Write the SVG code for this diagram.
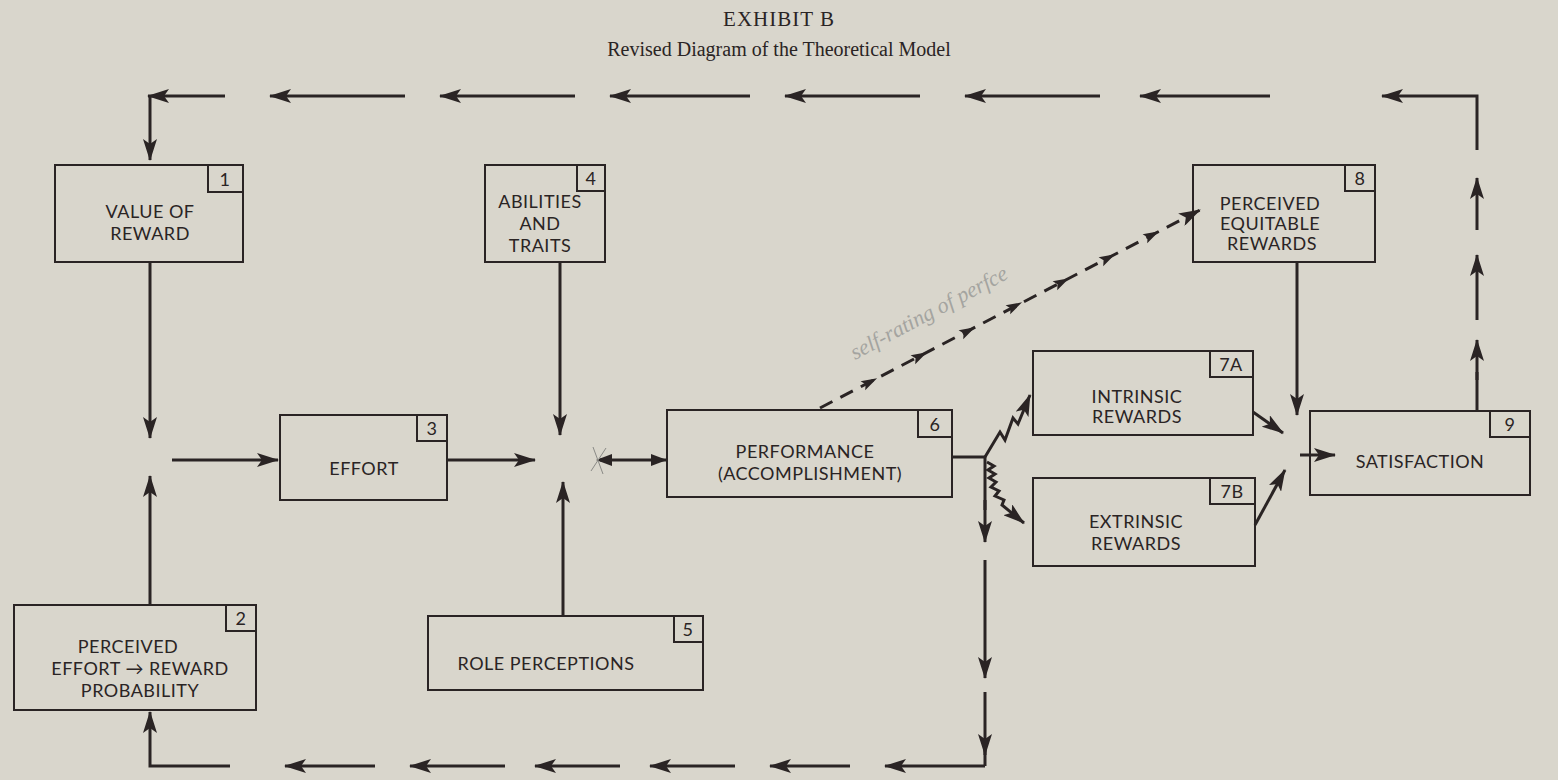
<svg xmlns="http://www.w3.org/2000/svg" width="1558" height="780" viewBox="0 0 1558 780">
<defs>
<marker id="ahb" markerWidth="22" markerHeight="14" refX="21" refY="7" orient="auto" markerUnits="userSpaceOnUse"><path d="M0,0 L22,7 L0,14 L5,7 Z" fill="#2a2424"/></marker>
<path id="sa" d="M-8,-5 L8,0 L-8,5 L-5,0 Z" fill="#2a2424"/>
<style>
.b{fill:none;stroke:#2a2424;stroke-width:2}
.l{fill:none;stroke:#2a2424;stroke-width:3;marker-end:url(#ahb)}
.n{fill:none;stroke:#2a2424;stroke-width:3}
.t{font-family:Lato,"Open Sans",sans-serif;font-size:18px;fill:#2a2424;text-anchor:middle;letter-spacing:0.5px}
.h{font-family:"Liberation Serif",serif;fill:#2a2424;text-anchor:middle}
</style>
</defs>
<rect width="1558" height="780" fill="#d9d6cc"/>
<text class="h" x="779" y="26" font-size="21" letter-spacing="1">EXHIBIT B</text>
<text class="h" x="779" y="56" font-size="20">Revised Diagram of the Theoretical Model</text>

<g id="n1"><rect class="b" x="55" y="165" width="188" height="97"/><rect class="b" x="208" y="165" width="35" height="27"/><text class="t" x="225" y="186">1</text><text class="t" x="150" y="218">VALUE  OF</text><text class="t" x="150" y="240">REWARD</text></g>
<g id="n2"><rect class="b" x="14" y="605" width="242" height="105"/><rect class="b" x="226" y="605" width="30" height="26"/><text class="t" x="241" y="625">2</text><text class="t" x="128" y="653">PERCEIVED</text><text class="t" x="140" y="675">EFFORT → REWARD</text><text class="t" x="140" y="697">PROBABILITY</text></g>
<g id="n3"><rect class="b" x="280" y="415" width="167" height="85"/><rect class="b" x="417" y="415" width="30" height="26"/><text class="t" x="432" y="435">3</text><text class="t" x="364" y="475">EFFORT</text></g>
<g id="n4"><rect class="b" x="485" y="165" width="120" height="97"/><rect class="b" x="577" y="165" width="28" height="26"/><text class="t" x="591" y="185">4</text><text class="t" x="540" y="208">ABILITIES</text><text class="t" x="540" y="230">AND</text><text class="t" x="540" y="252">TRAITS</text></g>
<g id="n5"><rect class="b" x="428" y="616" width="275" height="74"/><rect class="b" x="674" y="616" width="29" height="26"/><text class="t" x="688" y="636">5</text><text class="t" x="546" y="670">ROLE  PERCEPTIONS</text></g>
<g id="n6"><rect class="b" x="667" y="410" width="285" height="87"/><rect class="b" x="918" y="410" width="34" height="27"/><text class="t" x="935" y="431">6</text><text class="t" x="805" y="458">PERFORMANCE</text><text class="t" x="810" y="480">(ACCOMPLISHMENT)</text></g>
<g id="n7a"><rect class="b" x="1033" y="351" width="220" height="84"/><rect class="b" x="1210" y="351" width="43" height="26"/><text class="t" x="1231" y="371">7A</text><text class="t" x="1137" y="403">INTRINSIC</text><text class="t" x="1137" y="423">REWARDS</text></g>
<g id="n7b"><rect class="b" x="1033" y="478" width="222" height="88"/><rect class="b" x="1210" y="478" width="45" height="26"/><text class="t" x="1232" y="498">7B</text><text class="t" x="1136" y="528">EXTRINSIC</text><text class="t" x="1136" y="550">REWARDS</text></g>
<g id="n8"><rect class="b" x="1193" y="165" width="182" height="97"/><rect class="b" x="1345" y="165" width="30" height="26"/><text class="t" x="1360" y="185">8</text><text class="t" x="1270" y="210">PERCEIVED</text><text class="t" x="1270" y="230">EQUITABLE</text><text class="t" x="1272" y="250">REWARDS</text></g>
<g id="n9"><rect class="b" x="1310" y="411" width="220" height="84"/><rect class="b" x="1490" y="411" width="40" height="26"/><text class="t" x="1510" y="431">9</text><text class="t" x="1420" y="468">SATISFACTION</text></g>

<g id="connectors">
<path class="n" d="M1477,411 V372"/><path class="l" d="M1477,380 V340"/>
<path class="l" d="M1477,320 V255"/><path class="l" d="M1477,230 V178"/><path class="l" d="M1477,150 V96 H1382"/>
<path class="l" d="M1270,96 H1140"/><path class="l" d="M1100,96 H965"/><path class="l" d="M920,96 H785"/><path class="l" d="M750,96 H610"/><path class="l" d="M575,96 H440"/><path class="l" d="M405,96 H270"/><path class="l" d="M225,96 H148"/>
<path class="l" d="M150,96 V160"/>
<path class="l" d="M150,262 V438"/>
<path class="l" d="M150,605 V476"/>
<path class="l" d="M172,460 H278"/>
<path class="l" d="M447,460 H535"/>
<path class="l" d="M560,262 V435"/>
<path class="l" d="M563,616 V482"/>
<path class="n" d="M600,460 H667"/>
<path d="M596,460 l16,-6 v12 z" fill="#2a2424"/><path d="M667,460 l-16,-6 v12 z" fill="#2a2424"/>
<path d="M593,447 L603,474 M606,448 L591,471" stroke="#8a8a86" stroke-width="1" fill="none"/>
<path class="n" d="M952,457 H985 V510"/><path class="l" d="M985,500 V542"/>
<path class="l" d="M985,560 V678"/>
<path class="l" d="M985,692 V755"/>
<path class="n" d="M985,766 V750"/>
<path class="l" d="M985,766 H885"/><path class="l" d="M850,766 H770"/><path class="l" d="M735,766 H650"/><path class="l" d="M620,766 H535"/><path class="l" d="M505,766 H410"/><path class="l" d="M375,766 H285"/><path class="l" d="M230,766 H150 V712"/>
<path class="l" d="M820,408 L1200,210" stroke-dasharray="14,9"/>
<use href="#sa" transform="translate(870,382) rotate(-27.5)"/>
<use href="#sa" transform="translate(920,356) rotate(-27.5)"/>
<use href="#sa" transform="translate(968,331) rotate(-27.5)"/>
<use href="#sa" transform="translate(1015,306) rotate(-27.5)"/>
<use href="#sa" transform="translate(1062,282) rotate(-27.5)"/>
<use href="#sa" transform="translate(1108,258) rotate(-27.5)"/>
<use href="#sa" transform="translate(1152,235) rotate(-27.5)"/>
<text x="855" y="360" transform="rotate(-28 855 360)" font-family="'Liberation Serif',serif" font-style="italic" font-size="22" fill="#a4a4a0">self-rating of perfce</text>
<path class="l" d="M985,457 L1000,432 L1005,440 L1013,418 L1018,424 L1030,395"/>
<path class="l" d="M987,462 L994,466 L988,470 L995,474 L989,478 L996,482 L991,487 L999,491 L995,496 L1004,500 L1002,505 L1024,523"/>
<path class="l" d="M1253,412 L1283,433"/>
<path class="l" d="M1255,525 L1285,470"/>
<path class="l" d="M1297,262 V415"/>
<path class="l" d="M1300,455 H1335"/>
</g>
</svg>
